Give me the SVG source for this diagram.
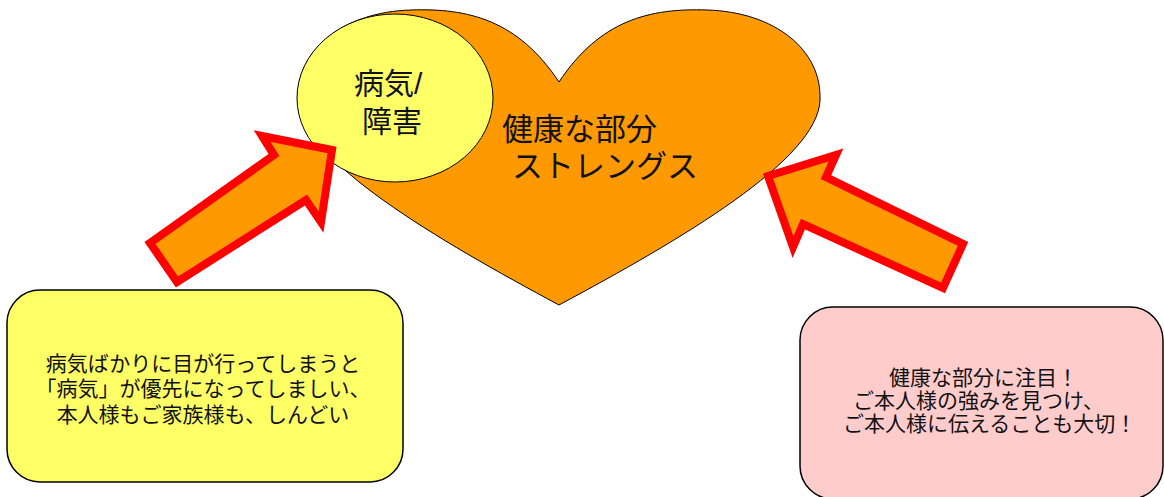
<svg xmlns="http://www.w3.org/2000/svg" width="1164" height="497" viewBox="0 0 1164 497">
<style>
text{font-family:"Liberation Sans","Noto Sans CJK JP","Noto Sans CJK SC",sans-serif;fill:#111}
.big{font-size:31px}
.mid{font-size:30px}
.small{font-size:21px}
.arrow{fill:#FF9900;stroke:#FF0000;stroke-width:8;stroke-linejoin:miter;stroke-miterlimit:10}
.box{stroke:#000;stroke-width:1.5}
</style>
<rect width="1164" height="497" fill="#fff"/>
<g id="heart">
<path d="M559,82 C600,20 650,8 707,10 C775,12 822,50 820,100 C818,160 680,240 559,305 C438,240 300,160 298,100 C296,50 343,12 411,10 C468,8 518,20 559,82 Z" fill="#FF9900" stroke="#000" stroke-width="1"/>
<text class="big" x="502" y="140">健康な部分</text>
<text class="big" x="512" y="177">ストレングス</text>
</g>
<g id="illness">
<ellipse cx="395" cy="98" rx="98" ry="84" fill="#FFFF66" stroke="#000" stroke-width="1"/>
<text class="mid" x="354" y="94">病気/</text>
<text class="mid" x="362" y="132">障害</text>
</g>
<g id="connectors">
<polygon class="arrow" points="332,150 262,136 274,155 150,243 177,282 306,200 321,222"/>
<polygon class="arrow" points="768,176 836,155 826,177 963,244 943,288 803,224 793,247"/>
</g>
<g id="left-note">
<rect class="box" x="7" y="290" width="396" height="192" rx="33" ry="33" fill="#FFFF66"/>
<text class="small" x="203" y="371" text-anchor="middle">病気ばかりに目が行ってしまうと</text>
<text class="small" x="203" y="396" text-anchor="middle">「病気」が優先になってしましい、</text>
<text class="small" x="203" y="422" text-anchor="middle">本人様もご家族様も、しんどい</text>
</g>
<g id="right-note">
<rect class="box" x="800" y="307" width="363" height="192" rx="33" ry="33" fill="#FFCCCC"/>
<text class="small" x="889" y="385">健康な部分に注目！</text>
<text class="small" x="853" y="408">ご本人様の強みを見つけ、</text>
<text class="small" x="843" y="431">ご本人様に伝えることも大切！</text>
</g>
</svg>
